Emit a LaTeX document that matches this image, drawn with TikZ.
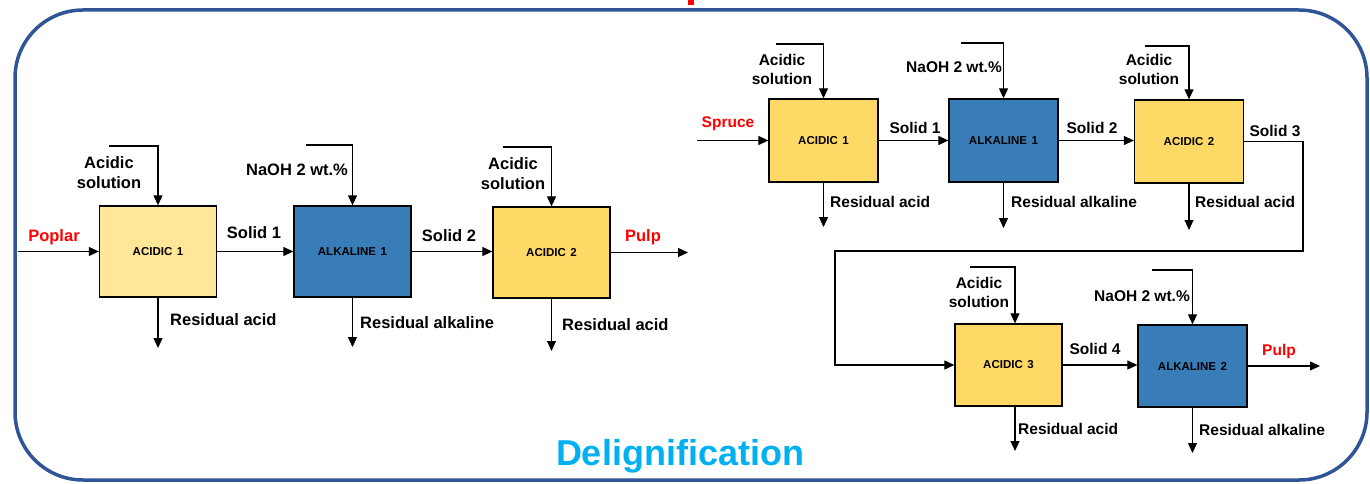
\documentclass[tikz,border=0pt]{standalone}
\usepackage{fontspec}
\setmainfont{Liberation Sans}
\usetikzlibrary{arrows.meta}
\definecolor{frameblue}{RGB}{47,85,151}
\definecolor{lightyel}{RGB}{255,230,153}
\definecolor{yel}{RGB}{255,217,102}
\definecolor{boxblue}{RGB}{56,124,184}
\definecolor{cyantxt}{RGB}{0,176,240}
\tikzset{
  proc/.style={draw=black, line width=1.3pt, inner sep=0pt, font=\fontsize{11.5}{13}\selectfont\bfseries},
  bigbox/.style={proc, minimum width=117pt, minimum height=91pt},
  smallbox/.style={proc, minimum width=109pt, minimum height=83pt},
  flow/.style={line width=1.1pt, -{Triangle[length=10pt,width=9pt]}},
  ltxt/.style={font=\fontsize{16.5}{20}\selectfont\bfseries, inner sep=0pt, align=center},
  rtxt/.style={font=\fontsize{15.5}{19}\selectfont\bfseries, inner sep=0pt, align=center},
  redtxt/.style={text=red}
}
\begin{document}
\begin{tikzpicture}[x=1pt,y=-1pt]
\useasboundingbox (0,0) rectangle (1370,484);
% frame
\draw[frameblue, line width=3.5pt, rounded corners=68pt] (15,10) rectangle (1367,480);
\fill[red] (688,0) rectangle (694,5);
\node[font=\fontsize{36}{40}\selectfont\bfseries, text=cyantxt, anchor=base, inner sep=0pt] (title) at (680,465) {Delignification};

% ---------------- left: poplar ----------------
\node[bigbox, fill=lightyel] (a1) at (158,251.5) {ACIDIC\hspace{0.4em}1};
\node[bigbox, fill=boxblue] (k1) at (352.5,251.5) {ALKALINE\hspace{0.4em}1};
\node[bigbox, fill=yel] (a2) at (551.5,252.5) {ACIDIC\hspace{0.4em}2};

\coordinate (p0) at (18,251.5);
\coordinate (ia1) at (109,146);
\coordinate (ik1) at (306,145);
\coordinate (ia2) at (503,147);
\coordinate (ra1) at (158,348);
\coordinate (rk1) at (352.5,347);
\coordinate (ra2) at (551.5,351);
\coordinate (pend) at (688,252.5);

\draw[flow] (p0) -- (a1.west);
\draw[flow] (a1.east) -- (k1.west);
\draw[flow] (k1.east) -- (k1.east -| a2.west);
\draw[flow] (a2.east) -- (pend);
\draw[flow] (ia1) -| (a1.north);
\draw[flow] (ik1) -| (k1.north);
\draw[flow] (ia2) -| (a2.north);
\draw[flow] (a1.south) -- (ra1);
\draw[flow] (k1.south) -- (rk1);
\draw[flow] (a2.south) -- (ra2);

\node[ltxt, redtxt] (tpop) at (54,237) {Poplar};
\node[ltxt] (tas1) at (109,173) {Acidic\\solution};
\node[ltxt] (tna1) at (297,170) {NaOH 2 wt.\%};
\node[ltxt] (tas2) at (513,174) {Acidic\\solution};
\node[ltxt] (ts1) at (254,233) {Solid 1};
\node[ltxt] (ts2) at (449,236) {Solid 2};
\node[ltxt, redtxt] (tpulp1) at (643,237) {Pulp};
\node[ltxt, anchor=west] (tra1) at (170,320) {Residual acid};
\node[ltxt, anchor=west] (trk1) at (360,323) {Residual alkaline};
\node[ltxt, anchor=west] (tra2) at (562,325) {Residual acid};

% ---------------- right: spruce ----------------
\node[smallbox, fill=yel] (b1) at (823.5,140.5) {ACIDIC\hspace{0.4em}1};
\node[smallbox, fill=boxblue] (bk1) at (1003.5,140.5) {ALKALINE\hspace{0.4em}1};
\node[smallbox, fill=yel] (b2) at (1189,141.5) {ACIDIC\hspace{0.4em}2};
\node[smallbox, fill=yel, minimum width=107pt, minimum height=82pt] (b3) at (1008.5,365) {ACIDIC\hspace{0.4em}3};
\node[smallbox, fill=boxblue, minimum height=82pt] (bk2) at (1192.5,366) {ALKALINE\hspace{0.4em}2};

\coordinate (s0) at (697,140.5);
\coordinate (ib1) at (776,44);
\coordinate (ibk1) at (961,43);
\coordinate (ib2) at (1145,46);
\coordinate (ib3) at (970,267);
\coordinate (ibk2) at (1152,270);
\coordinate (rb1) at (823.5,227);
\coordinate (rbk1) at (1003.5,228);
\coordinate (rb2) at (1189,230);
\coordinate (rb3) at (1015,451);
\coordinate (rbk2) at (1192.5,453);
\coordinate (c1) at (1303,141.5);
\coordinate (c2) at (1303,251);
\coordinate (c3) at (835,251);
\coordinate (c4) at (835,365);
\coordinate (pend2) at (1320,366);

\draw[flow] (s0) -- (b1.west);
\draw[flow] (b1.east) -- (bk1.west);
\draw[flow] (bk1.east) -- (bk1.east -| b2.west);
\draw[flow] (b2.east) -- (c1) -- (c2) -- (c3) -- (c4) -- (b3.west);
\draw[flow] (b3.east) -- (b3.east -| bk2.west);
\draw[flow] (bk2.east) -- (pend2);
\draw[flow] (ib1) -| (b1.north);
\draw[flow] (ibk1) -| (bk1.north);
\draw[flow] (ib2) -| (b2.north);
\draw[flow] (ib3) -| (rb3 |- b3.north);
\draw[flow] (ibk2) -| (bk2.north);
\draw[flow] (b1.south) -- (rb1);
\draw[flow] (bk1.south) -- (rbk1);
\draw[flow] (b2.south) -- (rb2);
\draw[flow] (rb3 |- b3.south) -- (rb3);
\draw[flow] (bk2.south) -- (rbk2);

\node[rtxt, redtxt] (tspr) at (728,124) {Spruce};
\node[rtxt] (tbs1) at (782,69) {Acidic\\solution};
\node[rtxt] (tbn1) at (954,67) {NaOH 2 wt.\%};
\node[rtxt] (tbs2) at (1149,69) {Acidic\\solution};
\node[rtxt] (tbs3) at (979,292) {Acidic\\solution};
\node[rtxt] (tbn2) at (1142,296) {NaOH 2 wt.\%};
\node[rtxt] (tsl1) at (915,128) {Solid 1};
\node[rtxt] (tsl2) at (1092,128) {Solid 2};
\node[rtxt] (tsl3) at (1275,131) {Solid 3};
\node[rtxt] (tsl4) at (1095,349) {Solid 4};
\node[rtxt, redtxt] (tpulp2) at (1279,351) {Pulp};
\node[rtxt, anchor=west] (trb1) at (830,202) {Residual acid};
\node[rtxt, anchor=west] (trbk1) at (1011,202) {Residual alkaline};
\node[rtxt, anchor=west] (trb2) at (1195,202) {Residual acid};
\node[rtxt, anchor=west] (trb3) at (1018,429) {Residual acid};
\node[rtxt, anchor=west] (trbk2) at (1199,430) {Residual alkaline};
\end{tikzpicture}
\end{document}
